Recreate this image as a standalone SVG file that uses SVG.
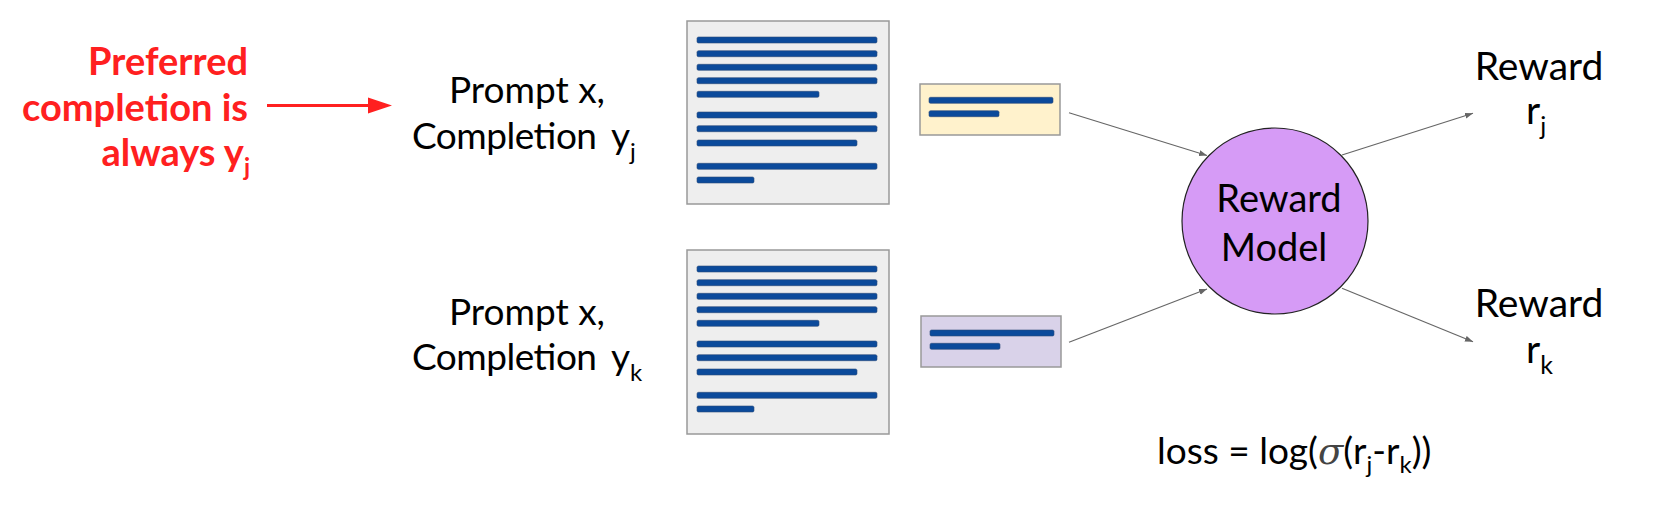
<svg xmlns="http://www.w3.org/2000/svg" width="1666" height="512" viewBox="0 0 1666 512">
<defs>
<style>
.t{font-family:Lato,"Liberation Sans",sans-serif;fill:#000}
.red{font-family:Lato,"Liberation Sans",sans-serif;font-weight:bold;fill:#ff2020;font-size:38px}
.doc{fill:#eeeeee;stroke:#999999;stroke-width:1.5}
.bar{fill:#0b4a9b;stroke:#2b4a78;stroke-width:0.6}
.conn{stroke:#666666;stroke-width:1.2;fill:none}
</style>
<marker id="ah" markerUnits="userSpaceOnUse" markerWidth="9" markerHeight="7" refX="8" refY="3" orient="auto">
<path d="M0,0 L8,3 L0,6 z" fill="#666666"/>
</marker>
<g id="lines">
<rect class="bar" x="697" y="37" width="180" height="6" rx="1.5"/>
<rect class="bar" x="697" y="50.7" width="180" height="6" rx="1.5"/>
<rect class="bar" x="697" y="64.3" width="180" height="6" rx="1.5"/>
<rect class="bar" x="697" y="77.7" width="180" height="6" rx="1.5"/>
<rect class="bar" x="697" y="91.3" width="122" height="6" rx="1.5"/>
<rect class="bar" x="697" y="112" width="180" height="6" rx="1.5"/>
<rect class="bar" x="697" y="125.7" width="180" height="6" rx="1.5"/>
<rect class="bar" x="697" y="140" width="160" height="6" rx="1.5"/>
<rect class="bar" x="697" y="163.3" width="180" height="6" rx="1.5"/>
<rect class="bar" x="697" y="177" width="57" height="6" rx="1.5"/>
</g>
</defs>

<g id="annotation">
<text class="red" x="248" y="75" text-anchor="end">Preferred</text>
<text class="red" x="248" y="121" text-anchor="end">completion is</text>
<text class="red" x="250" y="166" text-anchor="end">always y<tspan font-size="24" dy="10">j</tspan></text>
</g>

<g id="prompt-j">
<text class="t" x="527" y="103" font-size="37" text-anchor="middle">Prompt x,</text>
<text class="t" x="412" y="149" font-size="37" textLength="185">Completion</text>
<text class="t" x="611" y="149" font-size="37">y<tspan font-size="24" dy="11">j</tspan></text>
</g>

<g id="prompt-k">
<text class="t" x="527" y="325" font-size="37" text-anchor="middle">Prompt x,</text>
<text class="t" x="412" y="370" font-size="37" textLength="185">Completion</text>
<text class="t" x="611" y="370" font-size="37">y<tspan font-size="24" dy="11">k</tspan></text>
</g>

<g id="doc-j">
<rect class="doc" x="687" y="21" width="202" height="183"/>
<use href="#lines"/>
</g>

<g id="doc-k">
<rect class="doc" x="687" y="250" width="202" height="184"/>
<use href="#lines" y="229"/>
</g>

<g id="completion-j">
<rect x="920" y="84" width="140" height="51" fill="#fff2cc" stroke="#999999" stroke-width="1.5"/>
<rect class="bar" x="929" y="97.3" width="124" height="6" rx="1.5"/>
<rect class="bar" x="929" y="110.7" width="70" height="6" rx="1.5"/>
</g>

<g id="completion-k">
<rect x="921" y="316" width="140" height="51" fill="#d9d2e9" stroke="#999999" stroke-width="1.5"/>
<rect class="bar" x="930" y="330" width="124" height="6" rx="1.5"/>
<rect class="bar" x="930" y="343.3" width="70" height="6" rx="1.5"/>
</g>

<g id="reward-model">
<circle cx="1275" cy="221" r="93" fill="#d69bf6" stroke="#222222" stroke-width="1.2"/>
<text class="t" x="1279" y="212" font-size="38" text-anchor="middle">Reward</text>
<text class="t" x="1274" y="261" font-size="38" text-anchor="middle">Model</text>
</g>

<g id="reward-j">
<text class="t" x="1539" y="80" font-size="39" text-anchor="middle">Reward</text>
<text class="t" x="1526" y="124" font-size="39">r<tspan font-size="25" dy="11">j</tspan></text>
</g>

<g id="reward-k">
<text class="t" x="1539" y="317" font-size="39" text-anchor="middle">Reward</text>
<text class="t" x="1526" y="363" font-size="39">r<tspan font-size="25" dy="11">k</tspan></text>
</g>

<g id="loss">
<text class="t" x="1157" y="464" font-size="37">loss = log(<tspan fill="#444444" font-style="italic" font-family="'DejaVu Serif',serif">σ</tspan>(r<tspan font-size="24" dy="9">j</tspan><tspan dy="-9">-r</tspan><tspan font-size="24" dy="9">k</tspan><tspan dy="-9">))</tspan></text>
</g>

<g id="connectors">
<line x1="267" y1="105.5" x2="370" y2="105.5" stroke="#ff2020" stroke-width="3"/>
<polygon points="368,97.5 392,105.5 368,113.5" fill="#ff2020"/>
<line class="conn" x1="1069" y1="112.7" x2="1207" y2="155.5" marker-end="url(#ah)"/>
<line class="conn" x1="1069" y1="342.3" x2="1207" y2="289" marker-end="url(#ah)"/>
<line class="conn" x1="1342" y1="155" x2="1473" y2="113.3" marker-end="url(#ah)"/>
<line class="conn" x1="1342" y1="288.3" x2="1473" y2="341.7" marker-end="url(#ah)"/>
</g>
</svg>
